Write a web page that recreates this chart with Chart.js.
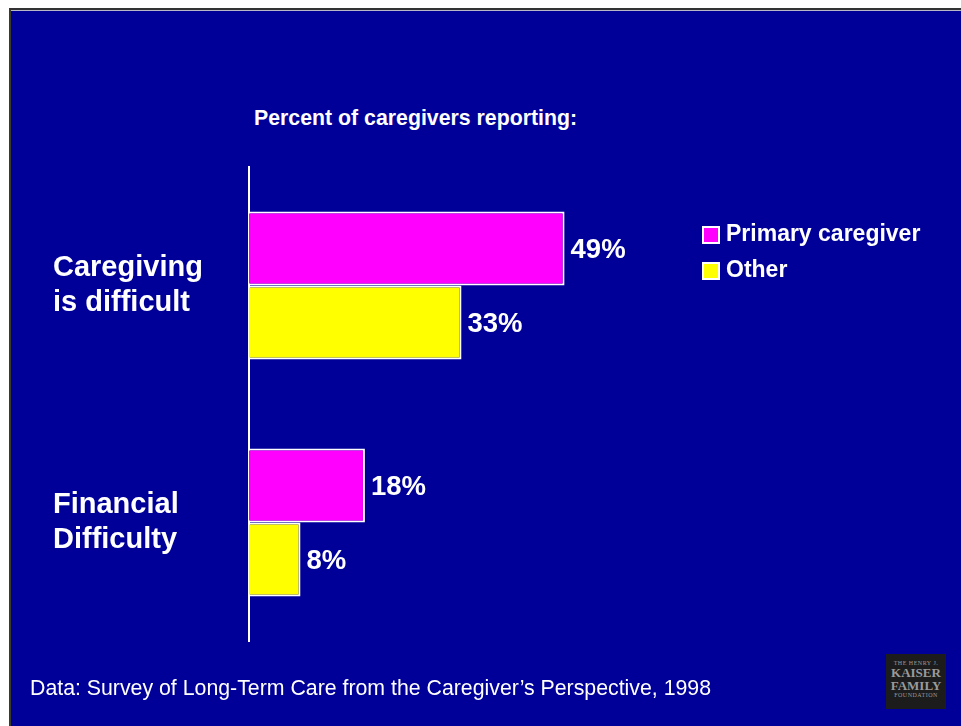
<!DOCTYPE html>
<html>
<head>
<meta charset="utf-8">
<title>Caregiver difficulty</title>
<script src="https://cdn.jsdelivr.net/npm/chart.js@4/dist/chart.umd.min.js"></script>
<style>
  html, body { margin: 0; padding: 0; background: #fff; overflow: hidden; }
  body { width: 961px; height: 726px; position: relative; font-family: "Liberation Sans", Arial, sans-serif; }
  #slide {
    position: absolute; left: 9px; top: 8px; right: 0; bottom: 0;
    background: #000099;
    border-top: 2px solid #333; border-left: 2px solid #3a3a2a;
    box-shadow: inset 0 1px 0 #b8b8c8;
  }
  #chart { position: absolute; left: 0; top: 0; }
  .heading { position: absolute; left: 254px; top: 106px; color: #fff; font-weight: bold; font-size: 21.3px; white-space: nowrap; }
  .source { position: absolute; left: 30px; top: 676px; color: #fff; font-size: 21.3px; white-space: nowrap; }
  .logo {
    position: absolute; left: 886px; top: 654px; width: 60px; height: 55px;
    background: #1c1c1c; color: #9a9a9a; font-family: "Liberation Serif", serif;
    text-align: center; line-height: 1; box-sizing: border-box; padding-top: 6px;
  }
  .logo .small { font-size: 6px; letter-spacing: 0.5px; }
  .logo .big { font-size: 13px; font-weight: bold; }
</style>
</head>
<body>
<div id="slide"></div>
<div class="heading">Percent of caregivers reporting:</div>
<canvas id="chart" width="961" height="726"></canvas>
<div class="source">Data: Survey of Long-Term Care from the Caregiver’s Perspective, 1998</div>
<div class="logo"><div class="small">THE HENRY J.</div><div class="big">KAISER</div><div class="big">FAMILY</div><div class="small">FOUNDATION</div></div>

<script>
// categories and values
const categories = [['Caregiving', 'is difficult'], ['Financial', 'Difficulty']];
const seriesNames = ['Primary caregiver', 'Other'];
const primaryValues = [49, 18];
const otherValues = [33, 8];
const seriesColors = ['#ff00ff', '#ffff00'];

const FONT = '"Liberation Sans", Arial, sans-serif';

// percent labels at the end of each bar
const valueLabels = {
  id: 'valueLabels',
  afterDatasetsDraw(chart) {
    const ctx = chart.ctx;
    ctx.save();
    ctx.fillStyle = '#fff';
    ctx.font = 'bold 27.5px ' + FONT;
    ctx.textAlign = 'left';
    ctx.textBaseline = 'middle';
    chart.data.datasets.forEach((ds, i) => {
      chart.getDatasetMeta(i).data.forEach((bar, j) => {
        ctx.fillText(ds.data[j] + '%', bar.x + 6, bar.y + 2);
      });
    });
    ctx.restore();
  }
};

// legend box on the right
const sideLegend = {
  id: 'sideLegend',
  afterDraw(chart) {
    const ctx = chart.ctx;
    ctx.save();
    ctx.font = 'bold 23px ' + FONT;
    ctx.textBaseline = 'middle';
    chart.data.datasets.forEach((ds, i) => {
      const y = 235 + i * 36;
      ctx.fillStyle = ds.backgroundColor;
      ctx.fillRect(703, y - 8, 16, 16);
      ctx.strokeStyle = '#fff';
      ctx.lineWidth = 2;
      ctx.strokeRect(703, y - 8, 16, 16);
      ctx.fillStyle = '#fff';
      ctx.fillText(ds.label, 726, y);
    });
    ctx.restore();
  }
};

new Chart(document.getElementById('chart'), {
  type: 'bar',
  data: {
    labels: categories,
    datasets: [
      { label: seriesNames[0], data: primaryValues, backgroundColor: seriesColors[0] },
      { label: seriesNames[1], data: otherValues, backgroundColor: seriesColors[1] }
    ]
  },
  options: {
    indexAxis: 'y',
    responsive: false,
    animation: false,
    layout: { padding: { left: 53, top: 167, right: 68, bottom: 85 } },
    datasets: {
      bar: {
        borderColor: '#fff',
        borderWidth: 2,
        categoryPercentage: 0.625,
        barPercentage: 1.0
      }
    },
    plugins: {
      legend: { display: false },
      title: { display: false },
      tooltip: { enabled: false }
    },
    scales: {
      x: { display: false, min: 0, max: 100 },
      y: {
        grid: { display: false },
        border: { display: true, color: '#fff', width: 2 },
        afterFit: (axis) => { axis.width = 196; },
        ticks: {
          color: '#fff',
          crossAlign: 'far',
          font: { family: FONT, size: 29, weight: 'bold', lineHeight: 1.2 }
        }
      }
    }
  },
  plugins: [valueLabels, sideLegend]
});
</script>
</body>
</html>
